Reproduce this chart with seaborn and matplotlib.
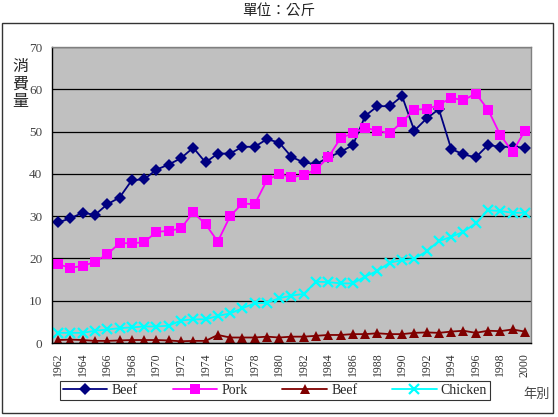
import matplotlib
matplotlib.use("Agg")
import matplotlib.pyplot as plt
import seaborn as sns
import pandas as pd
import numpy as np
from matplotlib.patches import Rectangle
from matplotlib.ticker import MultipleLocator, FixedLocator

years = list(range(1962, 2001))
beef = [28.5, 29.5, 30.8, 30.3, 32.8, 34.4, 38.5, 38.7, 41.0, 42.2, 43.7, 46.2, 42.7,
        44.8, 44.8, 46.4, 46.4, 48.2, 47.4, 44.0, 42.7, 42.3, 43.9, 45.2, 46.8, 53.7,
        56.0, 56.0, 58.4, 50.2, 53.1, 55.3, 45.9, 44.6, 43.9, 46.8, 46.4, 46.4, 46.2]
pork = [18.6, 17.8, 18.2, 19.2, 21.0, 23.6, 23.6, 23.8, 26.3, 26.5, 27.1, 30.9, 28.1,
        24.0, 30.0, 33.0, 32.8, 38.5, 40.0, 39.2, 39.7, 41.1, 43.9, 48.5, 49.6, 50.9,
        50.2, 49.6, 52.3, 55.2, 55.3, 56.3, 58.0, 57.4, 59.0, 55.2, 49.2, 45.2, 50.2]
beef2 = [0.7, 0.8, 0.7, 0.5, 0.5, 0.6, 0.7, 0.7, 0.7, 0.6, 0.4, 0.5, 0.5,
         1.9, 1.3, 1.3, 1.3, 1.5, 1.3, 1.5, 1.5, 1.7, 1.9, 1.9, 2.1, 2.1,
         2.3, 2.1, 2.1, 2.4, 2.5, 2.4, 2.7, 2.9, 2.4, 2.9, 2.8, 3.2, 2.7]
chicken = [2.4, 2.4, 2.4, 2.9, 3.2, 3.5, 3.7, 3.9, 3.9, 4.1, 5.3, 5.6, 5.6,
           6.4, 7.0, 8.2, 9.4, 9.5, 10.6, 11.2, 11.6, 14.5, 14.4, 14.1, 14.1, 15.7,
           17.1, 19.0, 19.6, 19.9, 21.7, 24.1, 25.1, 26.3, 28.3, 31.4, 31.2, 30.8, 30.8]
series_names = ["Beef", "Pork", "Beef", "Chicken"]
title = "單位：公斤"
ylabel = "消\n費\n量"
xlabel = "年別"

sns.set_style("white")
serif = ["Liberation Serif", "DejaVu Serif"]
cjk = ["Noto Sans CJK TC", "DejaVu Sans"]

fig = plt.figure(figsize=(5.58, 4.17), dpi=100)
ax = fig.add_axes([52/558, 74/417, 479/558, 296/417])
ax.set_facecolor("#C0C0C0")

styles = [
    (beef, "#000080", "D", 6.5),
    (pork, "#FF00FF", "s", 7.5),
    (beef2, "#800000", "^", 7.5),
    (chicken, "#00FFFF", "x", 7),
]
for name, (vals, col, mk, ms) in zip(series_names, styles):
    df = pd.DataFrame({"year": years, "value": vals})
    kw = dict(markeredgecolor=col if mk == "x" else "none",
              markeredgewidth=1.6 if mk == "x" else 0)
    sns.lineplot(data=df, x="year", y="value", ax=ax, color=col, marker=mk,
                 markersize=ms, linewidth=1.3, label=name, legend=False, **kw)

ax.set_xlim(1961.5, 2000.5)
ax.set_ylim(0, 70)
ax.yaxis.set_major_locator(MultipleLocator(10))
ax.grid(axis="y", color="black", linewidth=0.9)
ax.grid(axis="x", visible=False)
ax.set_axisbelow(True)

ax.xaxis.set_major_locator(FixedLocator(years[::2]))
ax.xaxis.set_minor_locator(FixedLocator(np.arange(1961.5, 2001, 1.0)))
ax.set_xticklabels([str(y) for y in years[::2]], rotation=90, fontfamily=serif,
                   fontsize=8.5, color="#333333")
ax.tick_params(axis="x", which="major", length=0, pad=7)
ax.tick_params(axis="x", which="minor", length=4, width=0.8, color="black", direction="out")
ax.tick_params(axis="y", which="major", length=4, width=0.8, color="black", direction="out", pad=3)
for lab in ax.get_yticklabels():
    lab.set_fontfamily(serif)
    lab.set_fontsize(9.5)
    lab.set_color("#444444")
ax.set_xlabel("")
ax.set_ylabel("")

for s in ["left", "bottom"]:
    ax.spines[s].set_color("black")
    ax.spines[s].set_linewidth(1.0)
for s in ["top", "right"]:
    ax.spines[s].set_color("#808080")
    ax.spines[s].set_linewidth(1.0)

handles, labels = ax.get_legend_handles_labels()
leg = fig.legend(handles, labels, loc="lower left", ncol=4, mode="expand",
                 bbox_to_anchor=(60/558, 17/417, 430/558, 23/417),
                 prop={"family": serif, "size": 10}, frameon=True, fancybox=False,
                 edgecolor="black", borderpad=0.2, handlelength=3.2, handletextpad=0.3,
                 borderaxespad=0)
leg.get_frame().set_linewidth(0.8)

fig.text(0.5, 1 - 11/417, title, ha="center", va="center", fontfamily=cjk,
         fontsize=10.5, color="#222222")
fig.text(20/558, 1 - 84/417, ylabel, ha="center", va="center", fontfamily=cjk,
         fontsize=11.5, color="#222222", linespacing=1.05)
fig.text(537/558, 1 - 394/417, xlabel, ha="center", va="center", fontfamily=cjk,
         fontsize=9.5, color="#444444")

fig.patches.append(Rectangle((2/558, 4/417), 551/558, 390/417, transform=fig.transFigure,
                             fill=False, edgecolor="#333333", linewidth=1.0))

fig.savefig("out.png", dpi=100)
